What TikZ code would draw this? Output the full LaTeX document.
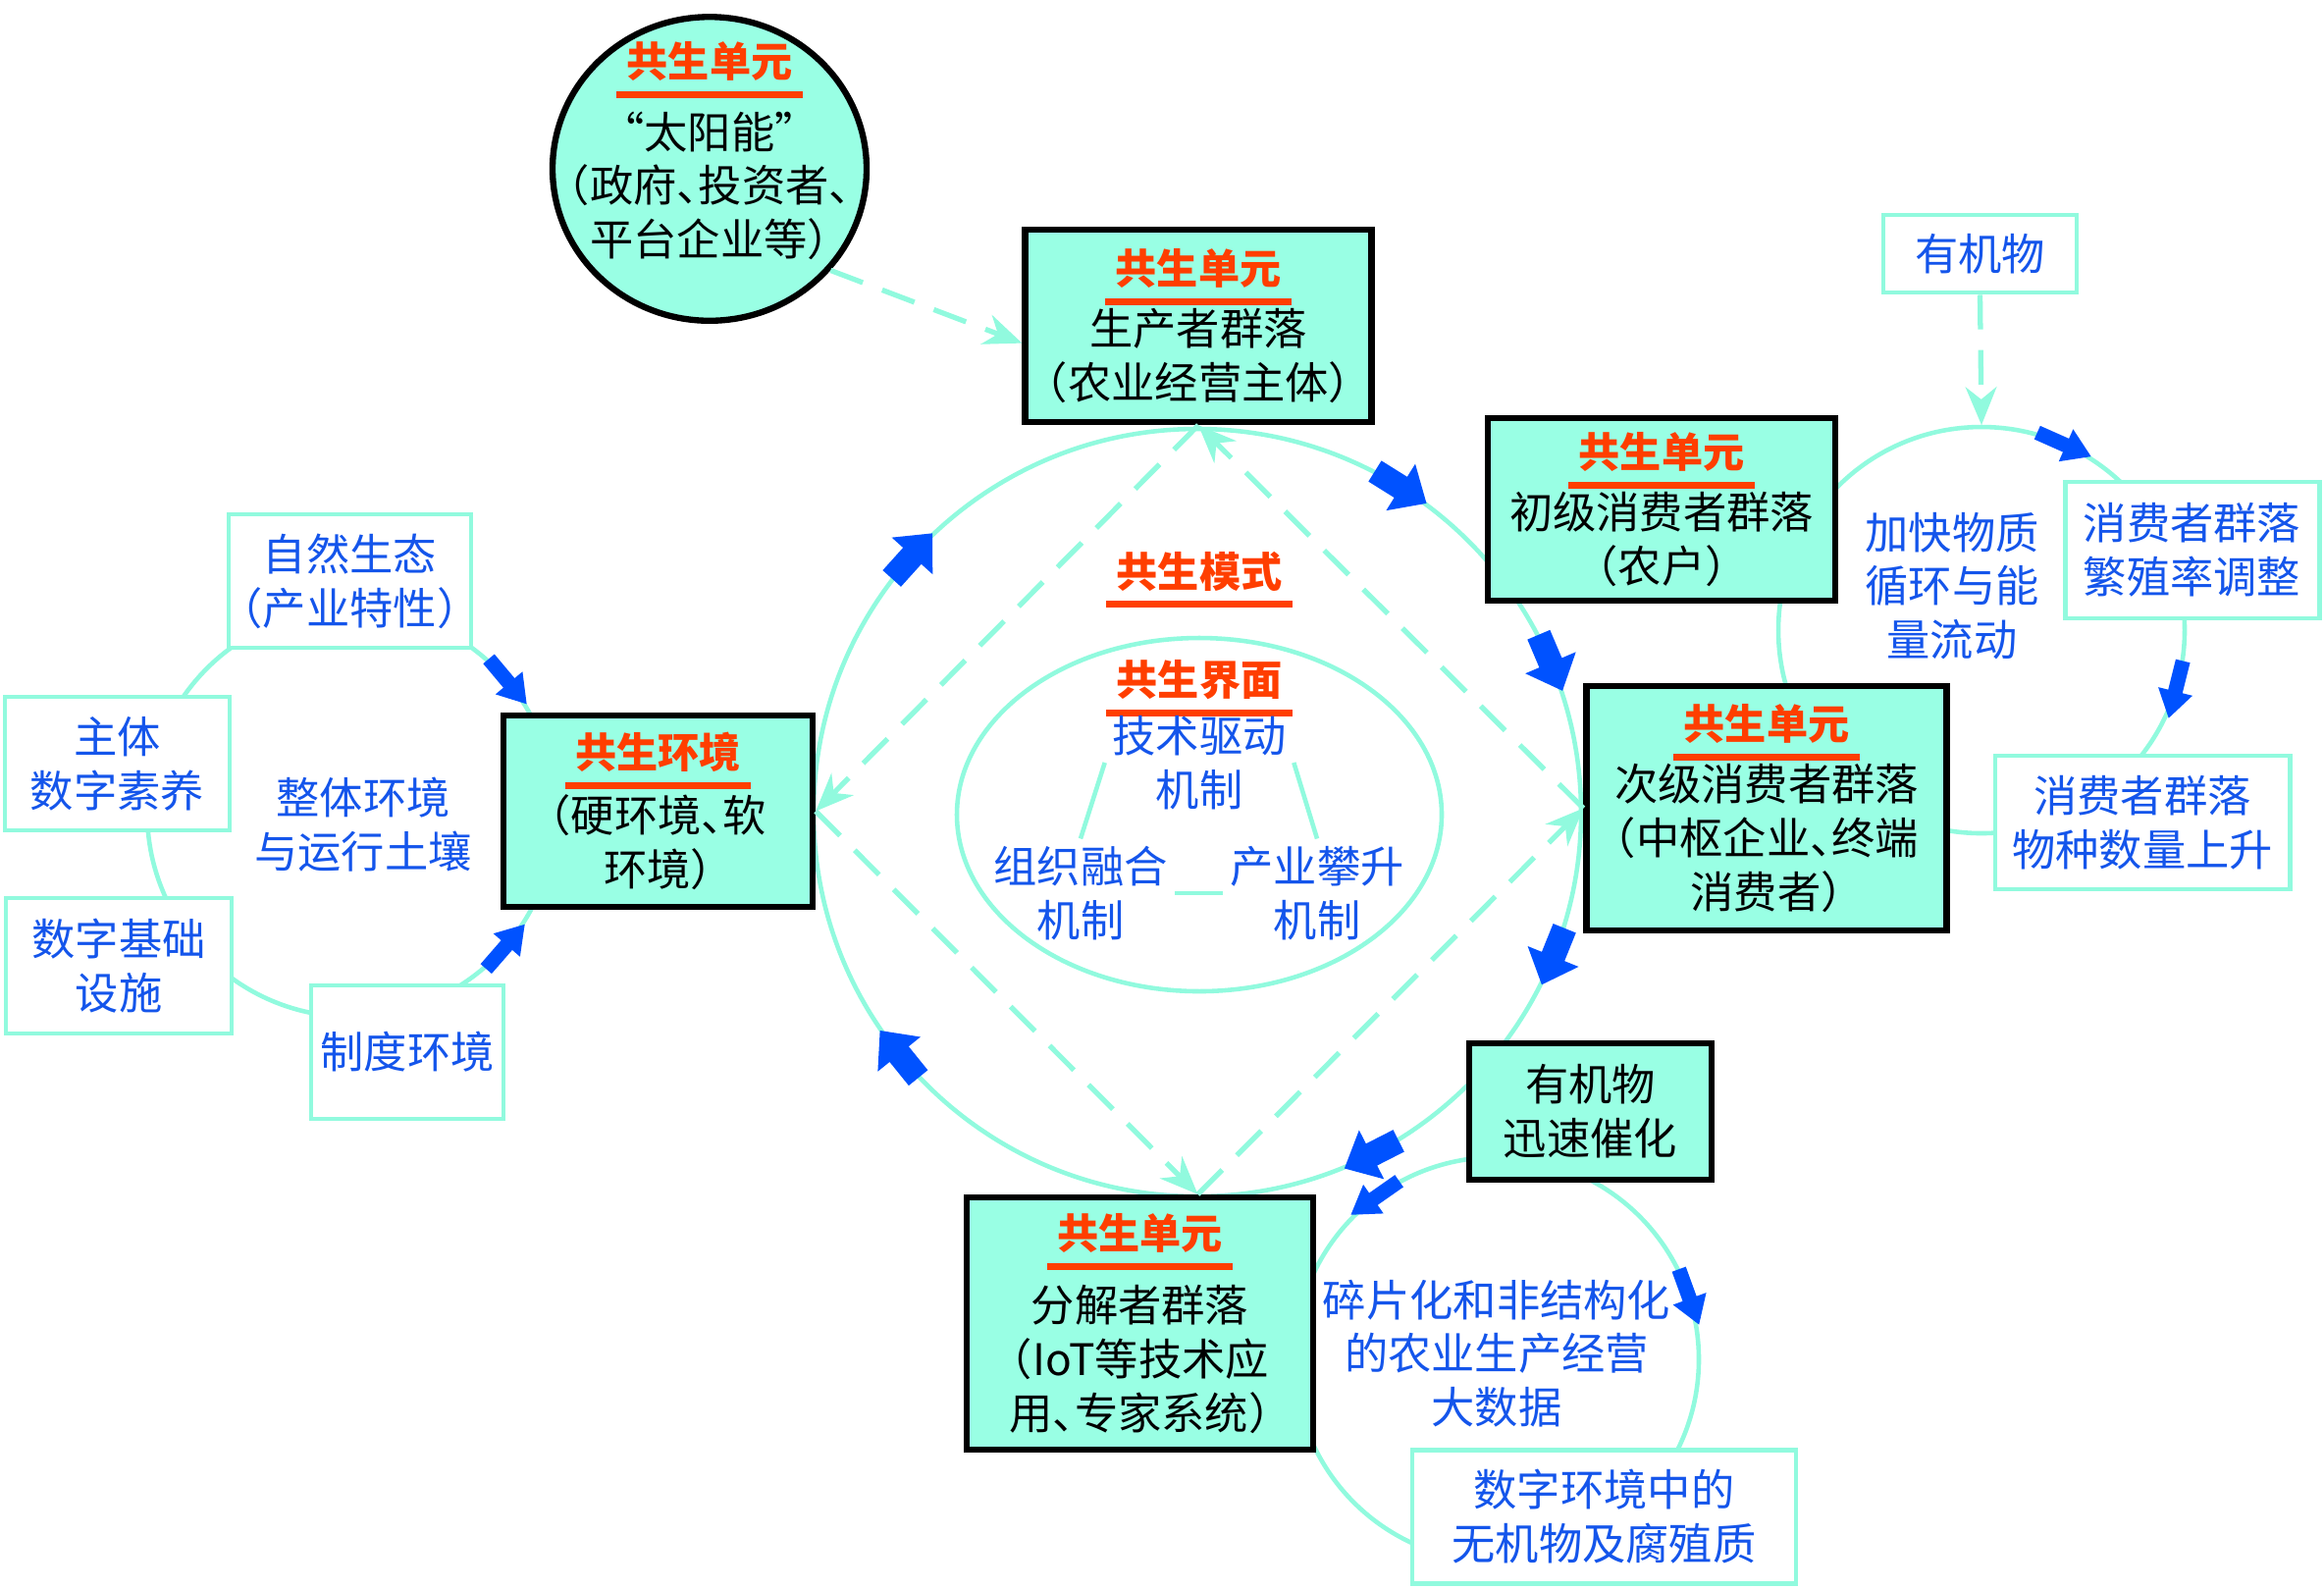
\documentclass[tikz,border=0pt]{standalone}
\usepackage{fontspec}
\newfontfamily\cjk{Noto Sans CJK SC}[RawFeature=+halt]
\usetikzlibrary{arrows.meta,positioning,calc,shapes.geometric}
\definecolor{cellfill}{RGB}{153,255,228}
\definecolor{ringline}{RGB}{145,250,222}
\definecolor{flowblue}{RGB}{0,82,255}
\definecolor{textblue}{RGB}{20,85,235}
\definecolor{symred}{RGB}{255,62,0}
\newcommand{\bodyfont}{\cjk\fontsize{12.6}{15.6}\selectfont}
% red title with a thick rule below it
\newcommand{\ttl}[1]{{\color{symred}\bfseries\fontsize{12}{15.6}\selectfont
  \setbox0\hbox{#1}%
  \rlap{\hspace{-0.25em}\smash{\raisebox{-0.5em}{\rule{\dimexpr\wd0+0.5em\relax}{2pt}}}}\box0}}
\tikzset{
  bigarrow/.pic={\fill[flowblue] (-0.31,-0.125) -- (0,-0.125) -- (0,-0.28) -- (0.31,0)
      -- (0,0.28) -- (0,0.125) -- (-0.31,0.125) -- cycle;},
  smallarrow/.pic={\fill[flowblue] (-0.3,-0.075) -- (0.02,-0.075) -- (0.02,-0.18) -- (0.3,0)
      -- (0.02,0.18) -- (0.02,0.075) -- (-0.3,0.075) -- cycle;}
}

\begin{document}
\begin{tikzpicture}[
    unitbox/.style={draw=black, line width=1.8pt, fill=cellfill, align=center, inner sep=0pt, font=\bodyfont},
    factbox/.style={draw=ringline, line width=1.4pt, fill=white, align=center, inner sep=0pt, text=textblue, font=\bodyfont},
    bluetext/.style={text=textblue, align=center, inner sep=2pt, font=\bodyfont},
    cycline/.style={draw=ringline, line width=1.3pt},
    dashflow/.style={draw=ringline, line width=1.5pt, dash pattern=on 10pt off 6pt,
      -{Stealth[length=11pt,width=9pt]}}
  ]
    \useasboundingbox (0,0) rectangle (23.68,-16.18);

    % centres of the cycles
    \coordinate (ring) at (12.20,-8.28);
    \coordinate (core) at (12.22,-8.30);
    \coordinate (envc) at (3.58,-8.28);
    \coordinate (matc) at (20.19,-6.42);
    \coordinate (decc) at (15.25,-13.85);
    \coordinate (mattop) at (20.19,-4.33);

    % cycles
    \draw[cycline] (ring) circle (3.91);
    \draw[cycline] (core) ellipse (2.47 and 1.80);
    \draw[cycline] (envc) circle (2.08);
    \draw[cycline] (matc) circle (2.07);
    \draw[cycline] (decc) circle (2.06);

    % symbiosis units
    \node[unitbox, ellipse, inner xsep=-0.36cm, inner ysep=-0.2cm, minimum width=3.2cm, minimum height=3.0cm] (sun) at (7.23,-1.72)
      {\ttl{共生单元}\\[5pt]“太阳能”\\（政府、投资者、\\平台企业等）\\[-4pt]\mbox{}};
    \node[unitbox, minimum width=3.53cm, minimum height=1.96cm] (prod) at (12.21,-3.32)
      {\ttl{共生单元}\\[2pt]生产者群落\\（农业经营主体）};
    \node[unitbox, minimum width=3.54cm, minimum height=1.86cm] (prim) at (16.93,-5.19)
      {\ttl{共生单元}\\[2pt]初级消费者群落\\（农户）};
    \node[unitbox, minimum width=3.67cm, minimum height=2.49cm] (sec) at (18.00,-8.235)
      {\ttl{共生单元}\\[2pt]次级消费者群落\\（中枢企业、终端\\消费者）};
    \node[unitbox, minimum width=3.15cm, minimum height=1.95cm] (env) at (6.705,-8.265)
      {\ttl{共生环境}\\[3pt]（硬环境、软\\环境）};
    \node[unitbox, minimum width=3.53cm, minimum height=2.57cm] (dec) at (11.615,-13.485)
      {\ttl{共生单元}\\[5.5pt]分解者群落\\（IoT等技术应\\用、专家系统）};
    \node[unitbox, minimum width=2.47cm, minimum height=1.39cm] (cat) at (16.205,-11.325)
      {有机物\\迅速催化};

    % factor boxes
    \node[factbox, minimum width=1.97cm, minimum height=0.79cm] (om) at (20.175,-2.585) {有机物};
    \node[factbox, minimum width=2.59cm, minimum height=1.39cm] (repro) at (22.335,-5.605) {消费者群落\\繁殖率调整};
    \node[factbox, minimum width=3.00cm, minimum height=1.36cm] (species) at (21.83,-8.38) {消费者群落\\物种数量上升};
    \node[factbox, minimum width=2.47cm, minimum height=1.36cm] (nature) at (3.565,-5.92) {自然生态\\（产业特性）};
    \node[factbox, minimum width=2.29cm, minimum height=1.36cm] (literacy) at (1.195,-7.78) {主体\\数字素养};
    \node[factbox, minimum width=2.30cm, minimum height=1.38cm] (infra) at (1.21,-9.84) {数字基础\\设施};
    \node[factbox, minimum width=1.96cm, minimum height=1.36cm] (inst) at (4.15,-10.72) {制度环境};
    \node[factbox, minimum width=3.91cm, minimum height=1.36cm] (inorg) at (16.345,-15.45) {数字环境中的\\无机物及腐殖质};

    % loose labels
    \node[bluetext] (soil) at (3.70,-8.40) {整体环境\\与运行土壤};
    \node[bluetext] (flow) at (19.89,-5.97) {加快物质\\循环与能\\量流动};
    \node[bluetext] (bigdata) at (15.25,-13.79) {碎片化和非结构化\\的农业生产经营\\大数据};

    % symbiosis mode and interface
    \node[align=center, inner sep=2pt, font=\bodyfont] (mode) at (12.22,-5.82) {\ttl{共生模式}};
    \node[align=center, inner sep=2pt, font=\bodyfont] (iface) at (12.22,-6.93) {\ttl{共生界面}};
    \node[bluetext] (tech) at (12.22,-7.77) {技术驱动\\机制};
    \node[bluetext] (org) at (11.01,-9.10) {组织融合\\机制};
    \node[bluetext] (ind) at (13.42,-9.10) {产业攀升\\机制};
    \draw[cycline] (tech.west) -- (org.north);
    \draw[cycline] (tech.east) -- (ind.north);
    \draw[cycline] (org.east) -- (ind.west);

    % dashed inputs and the mode diamond
    \coordinate (dectop) at ([xshift=0.59cm]dec.north);
    \draw[dashflow] (sun.-40) -- ([yshift=-5pt]prod.west);
    \draw[dashflow] (om.south) -- (mattop);
    \draw[dashflow] (prod.south) -- (env.east);
    \draw[dashflow] (env.east) -- (dectop);
    \draw[dashflow] (dectop) -- (sec.west);
    \draw[dashflow] (sec.west) -- (prod.south);

    % blue flow arrows on the main ring
    \pic[rotate=-32] at ($(ring)+(58:3.91)$) {bigarrow};
    \pic[rotate=-67] at ($(ring)+(23:3.91)$) {bigarrow};
    \pic[rotate=-112] at ($(ring)+(-22:3.91)$) {bigarrow};
    \pic[rotate=-153] at ($(ring)+(-63:3.91)$) {bigarrow};
    \pic[rotate=129] at ($(ring)+(-141:3.91)$) {bigarrow};
    \pic[rotate=48] at ($(ring)+(138:3.91)$) {bigarrow};

    % environment cycle
    \pic[rotate=-50] at ($(envc)+(40:2.08)$) {smallarrow};
    \pic[rotate=49] at ($(envc)+(-41:2.08)$) {smallarrow};

    % matter cycle
    \pic[rotate=-24] at ($(matc)+(66:2.07)$) {smallarrow};
    \pic[rotate=-104] at ($(matc)+(-17:2.07)$) {smallarrow};

    % decomposition cycle
    \pic[rotate=215] at ($(decc)+(127:2.06)$) {smallarrow};
    \pic[rotate=-70] at ($(decc)+(18:2.06)$) {smallarrow};
\end{tikzpicture}
\end{document}
